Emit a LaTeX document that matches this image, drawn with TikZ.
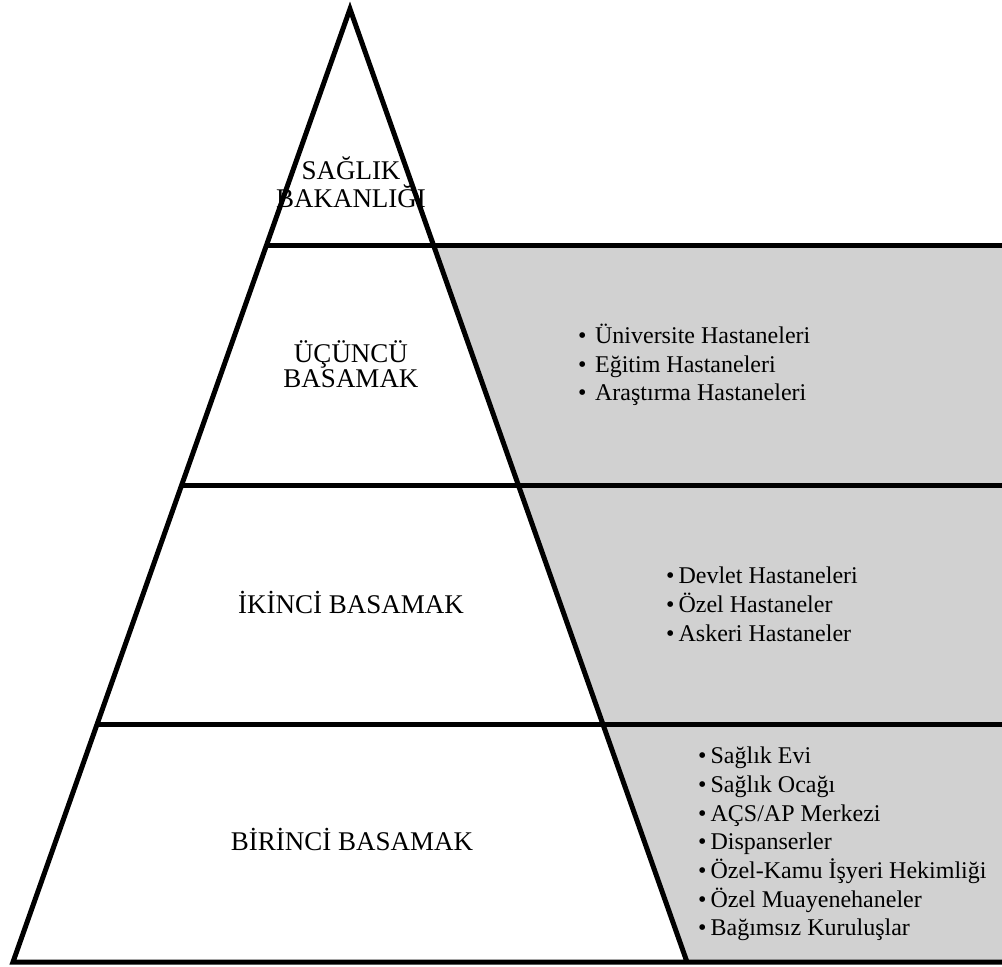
\documentclass[tikz,border=0pt]{standalone}
\usepackage{fontspec}
\IfFontExistsTF{LiberationSerif-Regular.ttf}
  {\setmainfont{LiberationSerif-Regular.ttf}}
  {\setmainfont{Liberation Serif}}
\definecolor{panelgrey}{RGB}{209,209,209}
\begin{document}
\begin{tikzpicture}[x=1pt,y=-1pt,
  edge/.style={line width=5pt,black,line join=miter},
  level/.style={font=\fontsize{27}{30}\selectfont,inner sep=0pt,anchor=base,text=black},
  item/.style={font=\fontsize{24}{28}\selectfont,inner sep=0pt,anchor=base west,text=black}]
\useasboundingbox (0,0) rectangle (1002,967);
% pyramid geometry
\coordinate (apex) at (350,9);
\coordinate (bl) at (13,962);
\coordinate (br) at (687,962);
\coordinate (baseR) at (1002,962);
\coordinate (l1) at (266.5,245);  \coordinate (r1) at (433.5,245);  \coordinate (e1) at (1002,245);
\coordinate (l2) at (181.7,485);  \coordinate (r2) at (518.3,485);  \coordinate (e2) at (1002,485);
\coordinate (l3) at (97.2,724);   \coordinate (r3) at (602.8,724);  \coordinate (e3) at (1002,724);
% grey panel
\fill[panelgrey] (r1) -- (e1) -- (baseR) -- (br) -- cycle;
% lines
\draw[edge] (baseR) -- (bl) -- (apex) -- (br);
\draw[edge] (l1) -- (e1);
\draw[edge] (l2) -- (e2);
\draw[edge] (l3) -- (e3);
% pyramid labels
\node[level] (sb1) at (351,179) {SAĞLIK};
\node[level] (sb2) at (351,207) {BAKANLIĞI};
\node[level] (ub1) at (351,362) {ÜÇÜNCÜ};
\node[level] (ub2) at (351,387) {BASAMAK};
\node[level] (ib) at (351,613) {İKİNCİ BASAMAK};
\node[level] (bb) at (352,850) {BİRİNCİ BASAMAK};
% third level list
\node[item] (t1) at (578,343) {•\hspace{8.5pt}Üniversite Hastaneleri};
\node[item] (t2) at (578,372) {•\hspace{8.5pt}Eğitim Hastaneleri};
\node[item] (t3) at (578,400.5) {•\hspace{8.5pt}Araştırma Hastaneleri};
% second level list
\node[item] (s1) at (666,583) {•\hspace{4pt}Devlet Hastaneleri};
\node[item] (s2) at (666,612) {•\hspace{4pt}Özel Hastaneler};
\node[item] (s3) at (666,641) {•\hspace{4pt}Askeri Hastaneler};
% first level list
\node[item] (f1) at (698,763) {•\hspace{4pt}Sağlık Evi};
\node[item] (f2) at (698,792) {•\hspace{4pt}Sağlık Ocağı};
\node[item] (f3) at (698,821) {•\hspace{4pt}AÇS/AP Merkezi};
\node[item] (f4) at (698,849) {•\hspace{4pt}Dispanserler};
\node[item] (f5) at (698,878) {•\hspace{4pt}Özel-Kamu İşyeri Hekimliği};
\node[item] (f6) at (698,907) {•\hspace{4pt}Özel Muayenehaneler};
\node[item] (f7) at (698,935) {•\hspace{4pt}Bağımsız Kuruluşlar};
\end{tikzpicture}
\end{document}
